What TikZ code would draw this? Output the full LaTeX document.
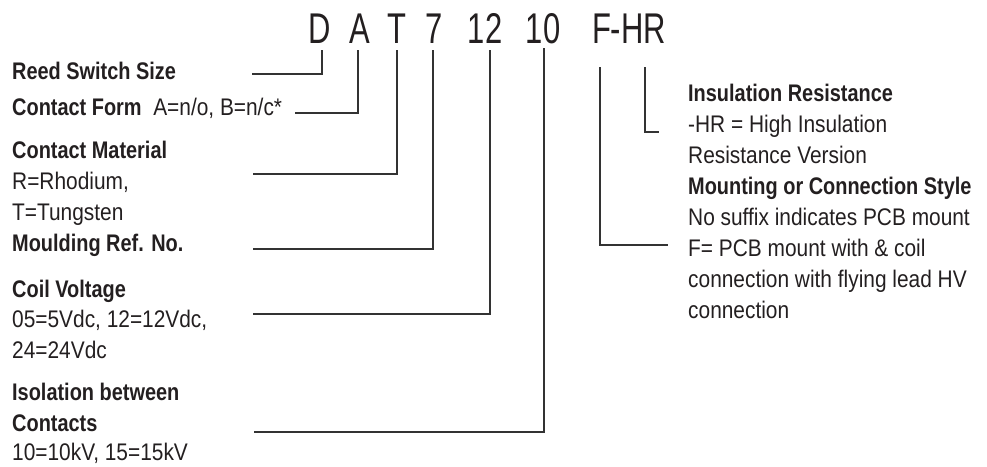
\documentclass[tikz,border=0pt]{standalone}
\usepackage{fontspec}
\setmainfont[FakeStretch=0.87,BoldFeatures={FakeStretch=0.83}]{Liberation Sans}
\newfontfamily\headfont[FakeStretch=0.72]{Liberation Sans}
\definecolor{ink}{HTML}{231F20}
\definecolor{leadc}{HTML}{333333}
\begin{document}
\begin{tikzpicture}[x=1pt,y=-1pt,
  txt/.style={anchor=base west,inner sep=0pt,text=ink,font=\fontsize{24}{31}\selectfont,align=left},
  hd/.style={anchor=base,inner sep=0pt,text=ink,font=\headfont\fontsize{43}{43}\selectfont},
  lead/.style={draw=leadc,line width=1.8pt}]
\useasboundingbox (0,0) rectangle (987,466);
% header
\node[hd] (hD) at (320,43) {D};
\node[hd] (hA) at (360,43) {A};
\node[hd] (hT) at (397,43) {T};
\node[hd] (h7) at (434,43) {7};
\node[hd] (h12) at (485,43) {12};
\node[hd] (h10) at (543,43) {10};
\node[hd] (hF) at (629,43) {F-HR};
% left texts
\node[txt] (reed) at (12,79) {\textbf{Reed Switch Size}};
\node[txt] (form) at (12,115) {\textbf{Contact Form}\ \ A=n/o, B=n/c*};
\node[txt] (mat) at (12,158) {\textbf{Contact Material}};
\node[txt] (mat1) at (12,189) {R=Rhodium,};
\node[txt] (mat2) at (12,220) {T=Tungsten};
\node[txt] (mould) at (12,251) {\textbf{Moulding Ref. No.}};
\node[txt] (coil) at (12,297) {\textbf{Coil Voltage}};
\node[txt] (coil1) at (12,327) {05=5Vdc, 12=12Vdc,};
\node[txt] (coil2) at (12,358) {24=24Vdc};
\node[txt] (iso) at (12,400) {\textbf{Isolation between}};
\node[txt] (iso1) at (12,431) {\textbf{Contacts}};
\node[txt] (iso2) at (12,460) {10=10kV, 15=15kV};
% right texts
\node[txt] (ins) at (688,101) {\textbf{Insulation Resistance}};
\node[txt] (ins1) at (688,132) {-HR = High Insulation};
\node[txt] (ins2) at (688,163) {Resistance Version};
\node[txt] (mnt) at (688,194) {\textbf{Mounting or Connection Style}};
\node[txt] (mnt1) at (688,225) {No suffix indicates PCB mount};
\node[txt] (mnt2) at (688,256) {F= PCB mount with \& coil};
\node[txt] (mnt3) at (688,287) {connection with flying lead HV};
\node[txt] (mnt4) at (688,318) {connection};
% connector ends
\coordinate (tD) at (322,50);   \coordinate (eD) at (252,74);
\coordinate (tA) at (358,50);   \coordinate (eA) at (295,113);
\coordinate (tT) at (397,50);   \coordinate (eT) at (253,174);
\coordinate (t7) at (433,50);   \coordinate (e7) at (253,249);
\coordinate (t12) at (490,50);  \coordinate (e12) at (253,314);
\coordinate (t10) at (544,48);  \coordinate (e10) at (254,432);
\coordinate (tF) at (600,67);   \coordinate (eF) at (668,245);
\coordinate (tH) at (645,67);   \coordinate (eH) at (659,132);
\draw[lead] (tD) |- (eD);
\draw[lead] (tA) |- (eA);
\draw[lead] (tT) |- (eT);
\draw[lead] (t7) |- (e7);
\draw[lead] (t12) |- (e12);
\draw[lead] (t10) |- (e10);
\draw[lead] (tF) |- (eF);
\draw[lead] (tH) |- (eH);
\end{tikzpicture}
\end{document}
